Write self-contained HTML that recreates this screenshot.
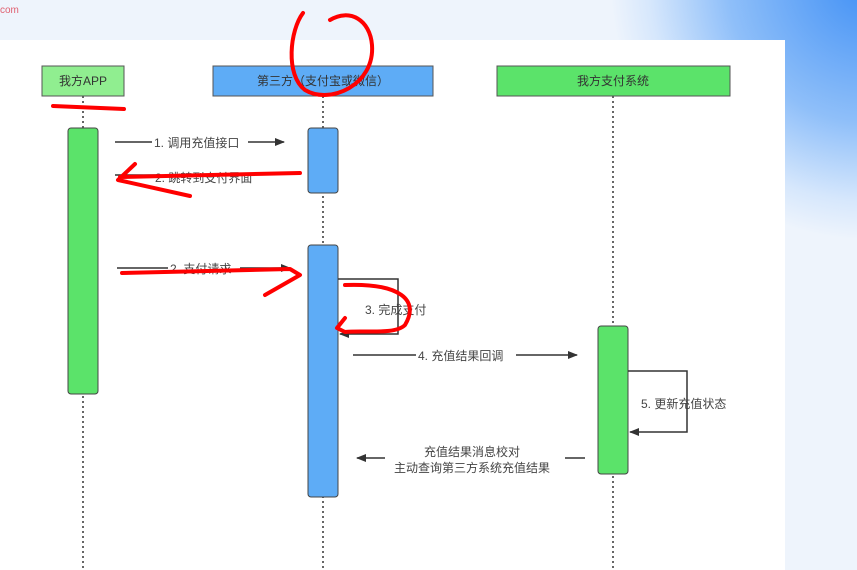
<!DOCTYPE html>
<html><head><meta charset="utf-8"><style>
html,body{margin:0;padding:0;width:857px;height:570px;overflow:hidden;background:#eef4fc;font-family:"Liberation Sans","Noto Sans CJK SC",sans-serif}
</style></head><body>
<svg width="857" height="570" xmlns="http://www.w3.org/2000/svg" style="position:absolute;left:0;top:0">
<defs>
<radialGradient id="g" cx="870" cy="-20" r="260" gradientUnits="userSpaceOnUse">
<stop offset="0" stop-color="#3f8ff5"/><stop offset="0.55" stop-color="#8fbff9"/><stop offset="0.85" stop-color="#d6e7fc"/><stop offset="1" stop-color="#eef4fc"/></radialGradient>
<marker id="a" markerWidth="10" markerHeight="8" refX="9" refY="4" orient="auto" markerUnits="userSpaceOnUse"><path d="M0,0 L10,4 L0,8 Z" fill="#333"/></marker>
</defs>
<rect x="0" y="0" width="857" height="570" fill="#eef4fc"/>
<rect x="600" y="0" width="257" height="320" fill="url(#g)"/>
<text x="0" y="13" font-size="10" fill="#e06070">com</text>
<rect x="0" y="40" width="785" height="530" fill="#fff"/>
<g stroke="#333" stroke-width="1.5" stroke-dasharray="2,3">
<line x1="83" y1="96" x2="83" y2="570"/><line x1="323" y1="96" x2="323" y2="570"/><line x1="613" y1="96" x2="613" y2="570"/></g>
<rect x="42" y="66" width="82" height="30" fill="#90ee90" stroke="#555"/>
<rect x="213" y="66" width="220" height="30" fill="#5eacf6" stroke="#555"/>
<rect x="497" y="66" width="233" height="30" fill="#5be36a" stroke="#555"/>
<g font-size="12" fill="#333" text-anchor="middle">
<text x="83" y="85">我方APP</text><text x="323" y="85">第三方（支付宝或微信）</text><text x="613" y="85">我方支付系统</text></g>
<rect x="68" y="128" width="30" height="266" rx="3" fill="#5be36a" stroke="#444"/>
<rect x="308" y="128" width="30" height="65" rx="3" fill="#5eacf6" stroke="#444"/>
<rect x="308" y="245" width="30" height="252" rx="3" fill="#5eacf6" stroke="#444"/>
<rect x="598" y="326" width="30" height="148" rx="3" fill="#5be36a" stroke="#444"/>
<g stroke="#333" stroke-width="1.5" fill="none">
<line x1="115" y1="142" x2="284" y2="142" marker-end="url(#a)"/>
<line x1="115" y1="175" x2="160" y2="175"/>
<line x1="117" y1="268" x2="290" y2="268" marker-end="url(#a)"/>
<polyline points="338,279 398,279 398,334 340,334" marker-end="url(#a)"/>
<line x1="353" y1="355" x2="577" y2="355" marker-end="url(#a)"/>
<polyline points="628,371 687,371 687,432 630,432" marker-end="url(#a)"/>
<line x1="585" y1="458" x2="357" y2="458" marker-end="url(#a)"/>
</g>
<g font-size="12" fill="#444">
<rect x="152" y="134" width="96" height="16" fill="#fff"/>
<text x="154" y="147">1. 调用充值接口</text>
<text x="155" y="182">2. 跳转到支付界面</text>
<rect x="168" y="260" width="72" height="16" fill="#fff"/>
<text x="170" y="273">2. 支付请求</text>
<text x="365" y="314">3. 完成支付</text>
<rect x="416" y="347" width="100" height="16" fill="#fff"/>
<text x="418" y="360">4. 充值结果回调</text>
<text x="641" y="408">5. 更新充值状态</text>
<rect x="385" y="445" width="180" height="30" fill="#fff"/>
<text x="472" y="456" text-anchor="middle">充值结果消息校对</text>
<text x="472" y="472" text-anchor="middle">主动查询第三方系统充值结果</text>
</g>
<g stroke="#f00" stroke-width="4" fill="none" stroke-linecap="round" stroke-linejoin="round">
<path d="M303,13 C290,30 285,75 305,90 C330,105 375,85 372,45 C370,20 350,8 330,20"/>
<path d="M53,106 L124,109"/>
<path d="M300,173 L120,177 M135,164 L118,180 L190,196"/>
<path d="M122,273 L290,269 L300,275 L265,295"/>
<path d="M345,285 C400,283 420,300 405,325 C395,335 365,330 345,332 L337,328 L345,318"/>
</g>
</svg>
</body></html>
